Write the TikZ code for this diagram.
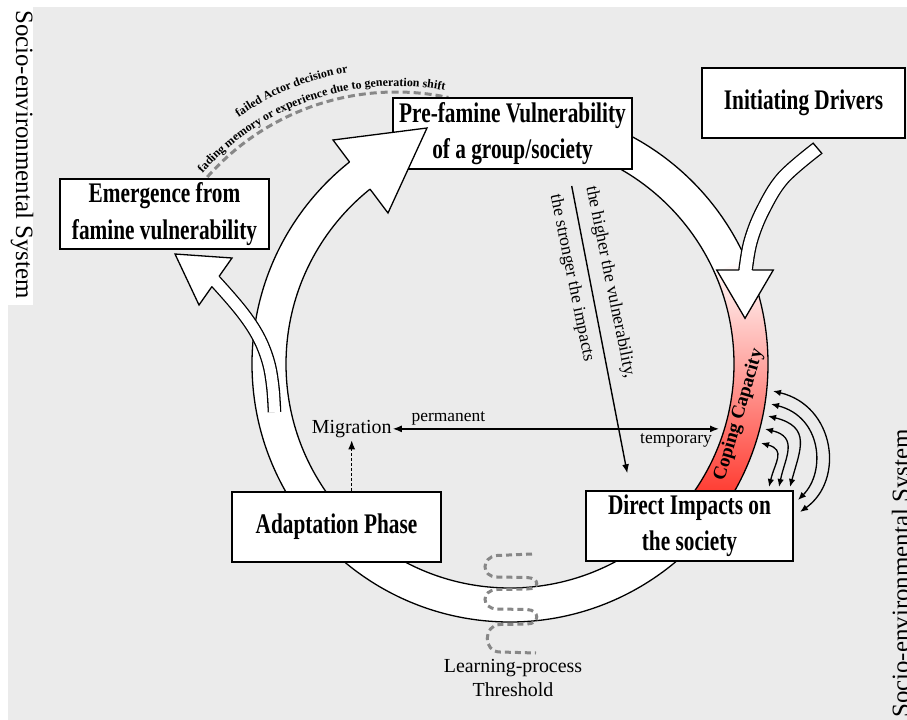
\documentclass[tikz,border=0pt]{standalone}
\usepackage{fontspec}
\setmainfont{Liberation Serif}
\newfontfamily\boxfont[FakeStretch=0.75]{Liberation Serif}
\usetikzlibrary{arrows.meta,decorations.text}
\definecolor{bggray}{RGB}{235,235,235}
\definecolor{dashgray}{RGB}{135,135,135}
\definecolor{copred}{RGB}{255,30,18}
\newcommand{\arcfnt}{\bfseries\fontsize{12}{14}\selectfont}
\tikzset{
  boxn/.style={draw=black, line width=2.6bp, fill=white, inner sep=0pt, align=center,
               font=\boxfont\bfseries\fontsize{28.5}{36.5}\selectfont},
  ringline/.style={line width=1.3bp, black, line join=miter},
  shaft/.style={line width=1.3bp, black, double=white, double distance=12bp, line cap=butt},
  graydash/.style={draw=dashgray, line width=3bp, dash pattern=on 7bp off 4bp},
  lbl/.style={inner sep=0pt, font=\fontsize{17.5}{20}\selectfont},
  arr/.style={-{Latex[length=9bp,width=7bp]}, line width=1.4bp},
  darr/.style={{Latex[length=9bp,width=7bp]}-{Latex[length=9bp,width=7bp]}, line width=1.4bp},
  carr/.style={{Latex[length=8bp,width=6.5bp]}-{Latex[length=8bp,width=6.5bp]}, line width=1.3bp},
}
\begin{document}
\begin{tikzpicture}[x=1bp,y=-1bp]
\useasboundingbox (0,0) rectangle (907,720);
\fill[white] (0,0) rectangle (907,720);
\fill[bggray] (8,7) rectangle (907,720);
\fill[white] (0,7) rectangle (33,305);

% side labels
\node[inner sep=0pt, font=\fontsize{25}{30}\selectfont, rotate=-90, anchor=base west] (socL) at (16,10) {Socio-environmental System};
\node[inner sep=0pt, font=\fontsize{25}{30}\selectfont, rotate=90, anchor=base west] (socR) at (909,718) {Socio-environmental System};

% ring
\fill[white, even odd rule] (510,364) circle[radius=258] (510,364) circle[radius=224];
\begin{scope}[shift={(510,364)}]
  \shade[top color=white, bottom color=copred]
    (-24:258) arc[start angle=-24, end angle=40, radius=258]
    -- (40:224) arc[start angle=40, end angle=-24, radius=224] -- cycle;
\end{scope}
\draw[ringline] (510,364) circle[radius=258];
\draw[ringline] (510,364) circle[radius=224];

% learning-process threshold
\draw[graydash, dash pattern=on 6bp off 4bp] (532,554) -- (497,555.5)
  .. controls (481,557) and (481,577) .. (497,577) -- (527,577.5)
  .. controls (540,578) and (540,589) .. (527,589) -- (497,589.5)
  .. controls (481,590) and (481,608.5) .. (497,609) -- (527,609.5)
  .. controls (540,610) and (540,624) .. (527,624) -- (500,624.5)
  .. controls (483,625) and (483,652) .. (500,652) -- (536,653);

% branch arrow to emergence (shaft)
\draw[shaft, double distance=11bp] plot[smooth, tension=0.6] coordinates
  {(274.5,412) (272.8,386.7) (268.3,361.7) (258.3,336.7) (241.7,311.7) (216,282) (210,277.6)};

% initiating drivers arrow (shaft)
\draw[shaft] plot[smooth, tension=0.6] coordinates
  {(817.5,148.3) (783,178) (763,210) (751,240) (745.8,268) (745.6,276)};
\draw[ringline] (812.8,142.8) -- (822.2,153.8);

% dashed arc with text
\begin{scope}[shift={(396,344)}]
  \draw[graydash] (-138.5:252) arc[start angle=-138.5, end angle=-78, radius=252];
  \path[decorate, decoration={text along path, text align=center,
        text={|\arcfnt|fading memory or experience due to generation shift}}]
        (-139.4:258) arc[start angle=-139.4, end angle=-78.3, radius=258];
  \path[decorate, decoration={text along path, text align=center,
        text={|\arcfnt|failed Actor decision or}}]
        (-130.4:276) arc[start angle=-130.4, end angle=-94.4, radius=276];
\end{scope}

% boxes
\node[boxn, minimum width=239bp, minimum height=71bp] (pre) at (512.5,133.5) {Pre-famine Vulnerability\\of a group/society};
\node[boxn, minimum width=203bp, minimum height=70bp] (init) at (803.5,103) {Initiating Drivers};
\node[boxn, minimum width=209bp, minimum height=70bp] (emer) at (164.5,214) {Emergence from\\famine vulnerability};
\node[boxn, minimum width=209bp, minimum height=70bp] (adapt) at (336.5,527) {Adaptation Phase};
\node[boxn, minimum width=207bp, minimum height=70bp] (direct) at (689.5,526) {Direct Impacts on\\the society};

% big arrowhead into pre-famine box
\fill[white] (333,140) -- (427,128) -- (388,213) -- cycle;
\draw[ringline] (349.5,162) -- (333,140) -- (427,128) -- (388,213) -- (370,189.1);

% initiating arrowhead
\fill[white] (716.7,270) -- (745,318.3) -- (773.3,270) -- cycle;
\draw[ringline] (739,270) -- (716.7,270) -- (745,318.3) -- (773.3,270) -- (752.4,270);

% branch arrowhead
\fill[white] (175,254) -- (232,258) -- (199,305) -- cycle;
\draw[ringline] (219,276.5) -- (232,258) -- (175,254) -- (199,305) -- (212,286.5);

% coping capacity label
\node[inner sep=0pt, font=\bfseries\fontsize{19}{22}\selectfont, rotate=73.7] (cop) at (739,415) {Coping Capacity};

% migration
\node[inner sep=0pt, font=\fontsize{20}{23}\selectfont, anchor=base] (mig) at (351.7,433.3) {Migration};
\node[lbl, anchor=base] (perm) at (448.4,421) {permanent};
\node[lbl, anchor=base] (temp) at (676,443) {temporary};
\coordinate (copL) at (719,428);
\draw[darr] ([xshift=1bp]mig.east) -- (copL |- mig.east);
\draw[arr, line width=1.3bp, dash pattern=on 3bp off 2bp] (adapt.north -| mig.south) -- ([yshift=-2.5bp]mig.south);

% vulnerability arrow
\coordinate (vA) at (571.7,186);
\coordinate (vB) at (627.3,473.3);
\draw[arr] (vA) -- (vB);
\node[lbl, font=\fontsize{17.8}{20}\selectfont, rotate=-78.5] (hv) at (610,282.3) {the higher the vulnerability,};
\node[lbl, font=\fontsize{17.8}{20}\selectfont, rotate=-78.5] (sv) at (571.7,278.3) {the stronger the impacts};

% learning-process labels
\node[inner sep=0pt, font=\fontsize{20}{23}\selectfont, anchor=base] (learn1) at (513,672.7) {Learning-process};
\node[inner sep=0pt, font=\fontsize{20}{23}\selectfont, anchor=base] (learn2) at (513,696) {Threshold};

% coping feedback arrows
\coordinate (p1) at (761,443); \coordinate (q1) at (769,487);
\coordinate (p2) at (765,429); \coordinate (q2) at (779,487);
\coordinate (p3) at (768,416); \coordinate (q3) at (790,487);
\coordinate (p4) at (771,404); \coordinate (q4) at (798,500);
\coordinate (p5) at (773,391); \coordinate (q5) at (800,512);
\draw[carr] (p1) .. controls (786,450) and (775,462) .. (q1);
\draw[carr] (p2) .. controls (799,437) and (785,458) .. (q2);
\draw[carr] (p3) .. controls (812,427) and (800,450) .. (q3);
\draw[carr] (p4) .. controls (822,417) and (826,472) .. (q4);
\draw[carr] (p5) .. controls (835,406) and (845,480) .. (q5);
\end{tikzpicture}
\end{document}
